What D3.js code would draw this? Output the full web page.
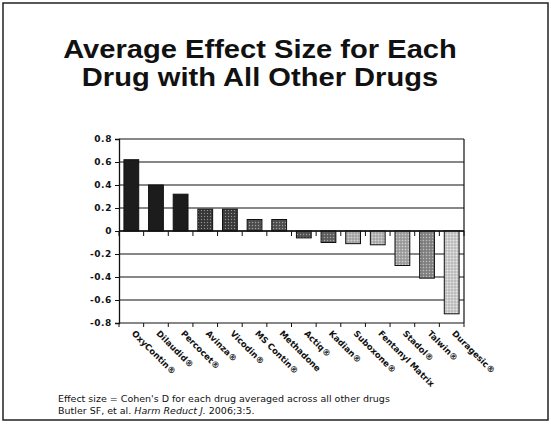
<!DOCTYPE html>
<html><head><meta charset="utf-8">
<script src="https://cdn.jsdelivr.net/npm/d3@7"></script>
<style>body{margin:0;background:#fff}svg{display:block}</style>
</head><body>
<svg id="c" width="551" height="424"></svg>
<script>
const categories = ["OxyContin®","Dilaudid®","Percocet®","Avinza®","Vicodin®","MS Contin®","Methadone","Actiq®","Kadian®","Suboxone®","Fentanyl Matrix","Stadol®","Talwin®","Duragesic®"];
const effectSizes = [0.62,0.40,0.32,0.19,0.19,0.10,0.10,-0.06,-0.10,-0.11,-0.12,-0.30,-0.41,-0.72];
const yTicks = [0.8,0.6,0.4,0.2,0,-0.2,-0.4,-0.6,-0.8];
const titleLines = ["Average Effect Size for Each","Drug with All Other Drugs"];

const barFills = ["#1c1c1c","#1c1c1c","#1c1c1c","#3c3c3c","#404040","#555","#555","#5a5a5a","#666","#b4b4b4","#b8b8b8","#a8a8a8","#8a8a8a","#cfcfcf"];

const svg = d3.select("#c");
// frame
svg.append("rect").attr("x",3).attr("y",3).attr("width",545).attr("height",417)
  .attr("fill","none").attr("stroke","#222").attr("stroke-width",1.5);

// patterns
const defs = svg.append("defs");
barFills.forEach((c,i)=>{
  const p = defs.append("pattern").attr("id","p"+i).attr("width",3).attr("height",3).attr("patternUnits","userSpaceOnUse");
  p.append("rect").attr("width",3).attr("height",3).attr("fill",c);
  if(i>=3){
    p.append("rect").attr("x",0).attr("y",0).attr("width",1).attr("height",1).attr("fill","#fff").attr("opacity",0.45);
    p.append("rect").attr("x",1.5).attr("y",1.5).attr("width",1).attr("height",1).attr("fill","#000").attr("opacity",0.35);
  }
});

// title
svg.append("g").selectAll("text").data(titleLines).join("text")
  .attr("transform",(d,i)=>`translate(260,${58+i*28}) scale(1.12,1)`)
  .attr("text-anchor","middle").attr("font-family","Liberation Sans, Arial, sans-serif")
  .attr("font-weight","bold").attr("font-size",26).attr("fill","#111").text(d=>d);

const L=119,R=464,T=139,B=323;
const x = d3.scaleBand().domain(categories).range([L,R]).paddingInner(0.4).paddingOuter(0.2);
const y = d3.scaleLinear().domain([-0.8,0.8]).range([B,T]);

// gridlines
svg.append("g").selectAll("line").data(yTicks).join("line")
  .attr("x1",L).attr("x2",R).attr("y1",d=>y(d)).attr("y2",d=>y(d))
  .attr("stroke","#111").attr("stroke-width",1.1);

// y axis
const yAxis = d3.axisLeft(y).tickValues(yTicks).tickSize(4).tickPadding(3)
  .tickFormat(d=> d===0 ? "0" : d.toFixed(1));
const ga = svg.append("g").attr("transform",`translate(${L},0)`).call(yAxis);
ga.select(".domain").attr("stroke","#111").attr("stroke-width",1.3);
ga.selectAll(".tick line").attr("stroke","#111");
ga.selectAll("text").attr("font-family","DejaVu Sans, sans-serif").attr("font-weight","bold")
  .attr("font-size",9).attr("letter-spacing",0.6).attr("fill","#111");

// right border
svg.append("line").attr("x1",R).attr("x2",R).attr("y1",T).attr("y2",B).attr("stroke","#111").attr("stroke-width",1.2);

// bars
svg.append("g").selectAll("rect").data(effectSizes).join("rect")
  .attr("x",(d,i)=>x(categories[i]))
  .attr("width",x.bandwidth())
  .attr("y",d=>y(Math.max(0,d)))
  .attr("height",d=>Math.abs(y(d)-y(0)))
  .attr("fill",(d,i)=>"url(#p"+i+")")
  .attr("stroke","#111").attr("stroke-width",1);

// category tick marks at zero line and bottom
const bounds = d3.range(categories.length+1).map(i=>L + i*x.step());
svg.append("g").selectAll("line").data(bounds).join("line")
  .attr("x1",d=>d).attr("x2",d=>d).attr("y1",y(0)).attr("y2",y(0)+5).attr("stroke","#111");
svg.append("g").selectAll("line").data(bounds).join("line")
  .attr("x1",d=>d).attr("x2",d=>d).attr("y1",B).attr("y2",B+4).attr("stroke","#111");
// zero line emphasis
svg.append("line").attr("x1",L).attr("x2",R).attr("y1",y(0)).attr("y2",y(0)).attr("stroke","#111").attr("stroke-width",1.4);

// category labels
svg.append("g").selectAll("text").data(categories).join("text")
  .attr("transform",d=>`translate(${x(d)+x.bandwidth()/2+2},${B+9}) rotate(45)`)
  .attr("font-family","DejaVu Sans, sans-serif").attr("font-weight","bold")
  .attr("font-size",8.5).attr("fill","#111").attr("dy","0.35em").text(d=>d);

// footnotes
const fn = svg.append("g").attr("font-family","DejaVu Sans, sans-serif").attr("font-size",9.5).attr("fill","#111");
fn.append("text").attr("x",58).attr("y",402).text("Effect size = Cohen's D for each drug averaged across all other drugs");
const t2 = fn.append("text").attr("x",58).attr("y",413.5);
t2.append("tspan").text("Butler SF, et al. ");
t2.append("tspan").attr("font-style","italic").text("Harm Reduct J.");
t2.append("tspan").text(" 2006;3:5.");
</script>
</body></html>
